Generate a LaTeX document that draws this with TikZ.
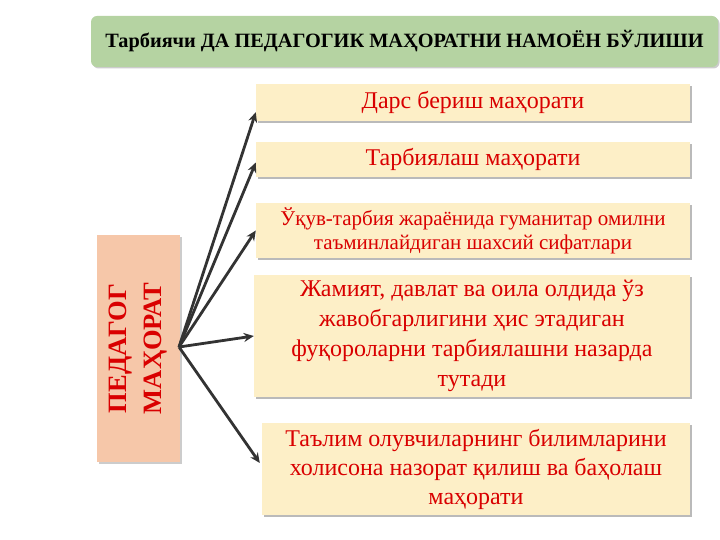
\documentclass[tikz,border=0pt]{standalone}
\usepackage{fontspec}
\setmainfont{Liberation Serif}
\usetikzlibrary{shadows,arrows.meta}
\definecolor{titlegreen}{HTML}{B5D3A2}
\definecolor{cream}{HTML}{FDEFC7}
\definecolor{peach}{HTML}{F6C7A9}
\definecolor{txtred}{HTML}{D90000}
\tikzset{
  box/.style={draw=none, fill=cream, align=center, text=txtred, inner sep=2pt,
    drop shadow={shadow xshift=2pt, shadow yshift=-2pt, fill=black!45, opacity=0.6}},
  arr/.style={draw=black!80, line width=2.8pt, -{Stealth[length=10pt,width=9pt]}},
}
\begin{document}
\begin{tikzpicture}[x=1pt,y=-1pt]
\useasboundingbox (0,0) rectangle (720,540);
\node[fill=titlegreen, rounded corners=6pt, minimum width=627pt, minimum height=51pt,
  drop shadow={shadow xshift=1.5pt, shadow yshift=-1.5pt, fill=black!40, opacity=0.5},
  font=\fontsize{20.3}{24}\selectfont\bfseries] (title) at (404.5,41.5)
  {Тарбиячи ДА ПЕДАГОГИК МАҲОРАТНИ НАМОЁН БЎЛИШИ};
\node[box, minimum width=434pt, minimum height=37pt, font=\fontsize{24}{28}\selectfont] (b1) at (473,102.5) {\raisebox{-2pt}{Дарс бериш маҳорати}};
\node[box, minimum width=434pt, minimum height=35pt, font=\fontsize{24}{28}\selectfont] (b2) at (473,159.5) {Тарбиялаш маҳорати};
\node[box, minimum width=434pt, minimum height=55pt, font=\fontsize{21}{24}\selectfont] (b3) at (473,230.5) {Ўқув-тарбия жараёнида гуманитар омилни\\таъминлайдиган шахсий сифатлари};
\node[box, minimum width=436pt, minimum height=122pt, font=\fontsize{24}{30}\selectfont] (b4) at (472,336) {Жамият, давлат ва оила олдида ўз\\жавобгарлигини ҳис этадиган\\фуқороларни тарбиялашни назарда\\тутади};
\node[box, minimum width=428pt, minimum height=92pt, font=\fontsize{24}{29}\selectfont] (b5) at (476,469) {Таълим олувчиларнинг билимларини\\холисона назорат қилиш ва баҳолаш\\маҳорати};
\node[fill=peach, minimum width=83pt, minimum height=227pt,
  drop shadow={shadow xshift=2pt, shadow yshift=-2pt, fill=black!40, opacity=0.5}] (left) at (138.5,348.5) {};
\node[rotate=90, text=txtred, align=center, font=\fontsize{26.5}{35}\selectfont\bfseries] (lt) at (left.center) {ПЕДАГОГ\\МАҲОРАТ};
\coordinate (src) at (179,347);
\draw[arr] (src) -- ([yshift=9pt]b1.south west);
\draw[arr] (src) -- ([yshift=-3pt]b2.west);
\draw[arr] (src) -- (b3.west);
\draw[arr] (src) -- (b4.west);
\draw[arr] (src) -- ([shift={(-2pt,6pt)}]b5.west);
\end{tikzpicture}
\end{document}
